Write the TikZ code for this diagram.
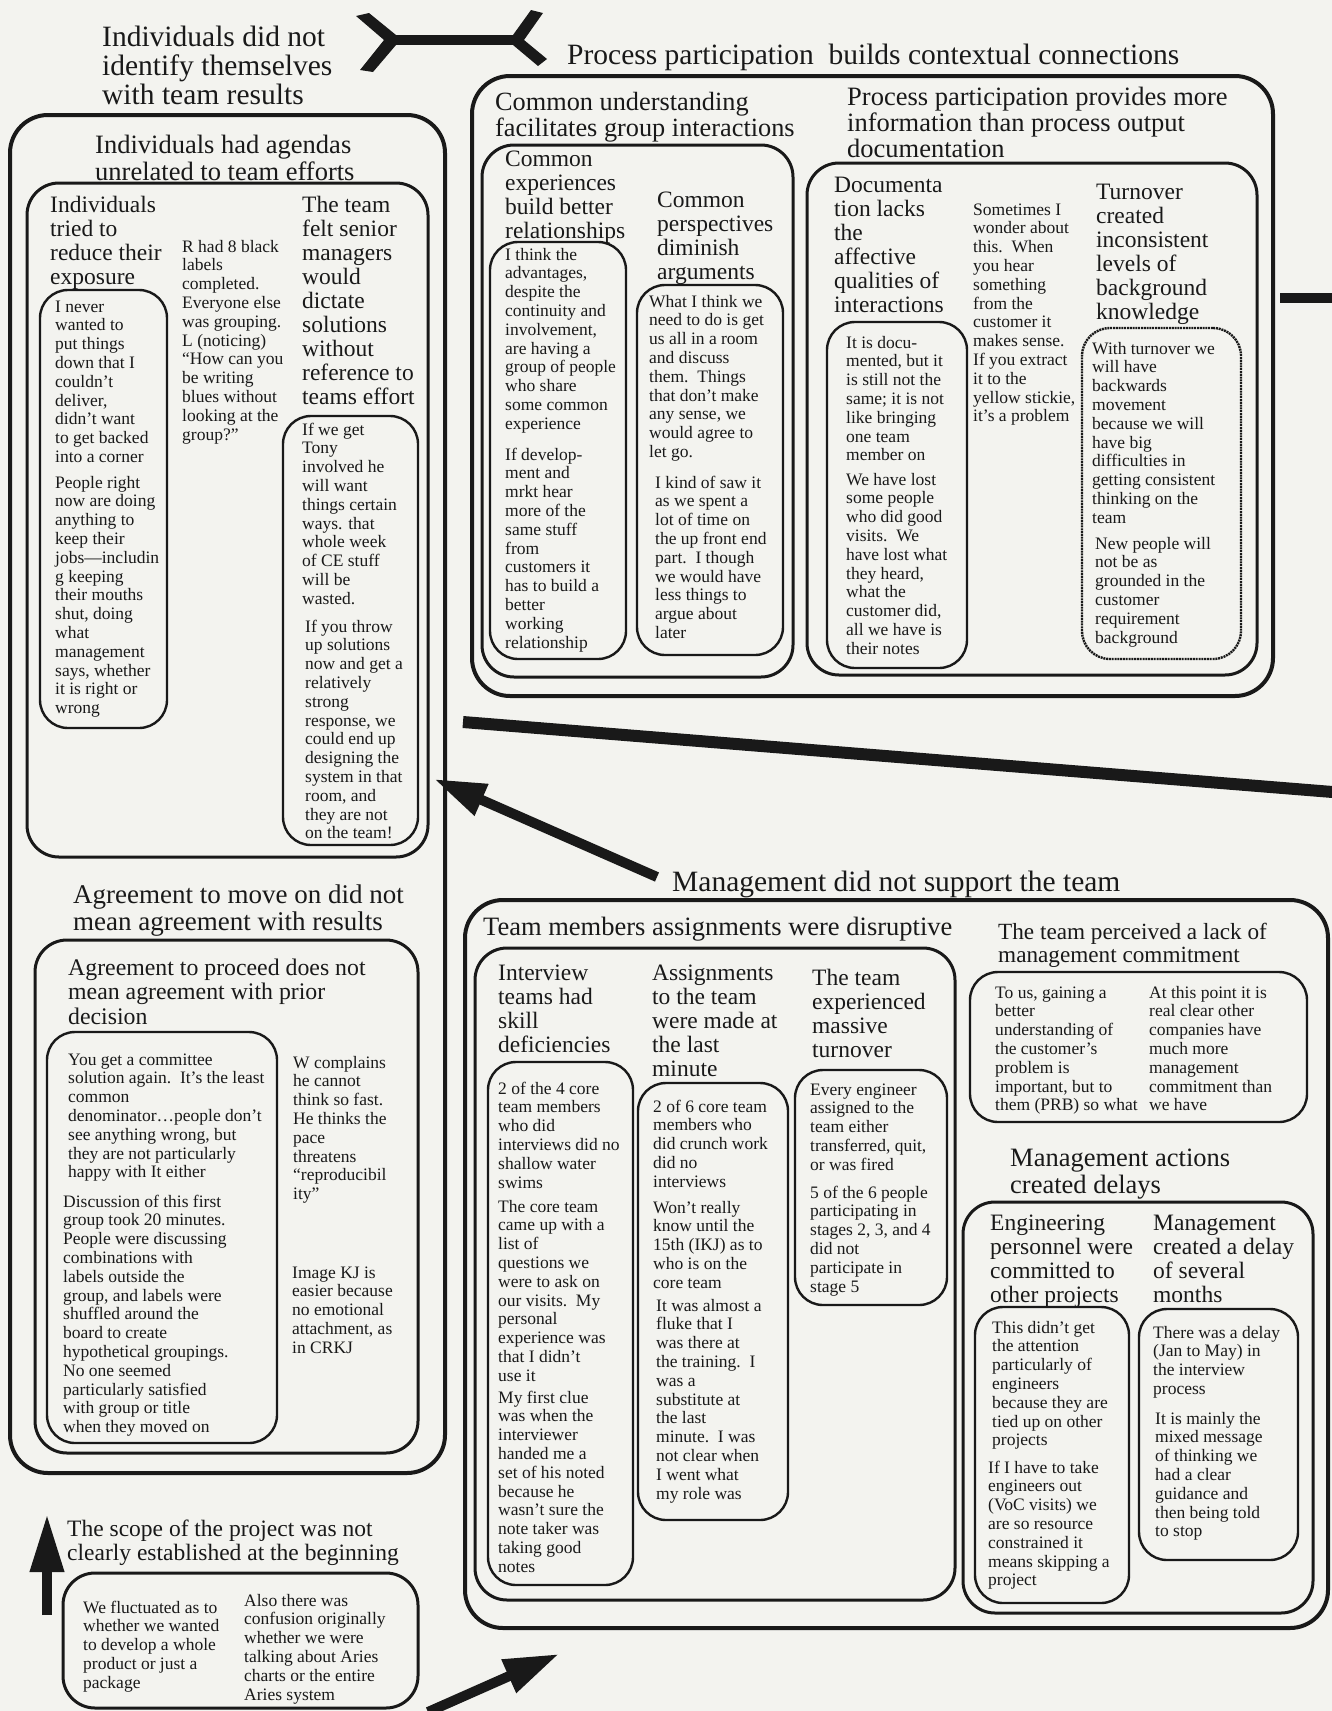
\documentclass[tikz,border=0pt]{standalone}
\usepackage{fontspec}
\setmainfont{Liberation Serif}
\usetikzlibrary{fit,arrows.meta}
\definecolor{bgc}{RGB}{243,243,239}
\definecolor{ink}{RGB}{25,25,25}
\newcommand\fzA{\fontsize{29.5}{28}\selectfont}
\newcommand\fzAg{\fontsize{27}{27}\selectfont}
\newcommand\fzS{\fontsize{23.5}{24.5}\selectfont}
\newcommand\fzB{\fontsize{26.5}{27}\selectfont}
\newcommand\fzBc{\fontsize{26.3}{26}\selectfont}
\newcommand\fzBp{\fontsize{26.5}{25.5}\selectfont}
\newcommand\fzL{\fontsize{23.2}{23.5}\selectfont}
\newcommand\fzP{\fontsize{23.8}{24.5}\selectfont}
\newcommand\fzC{\fontsize{23.5}{24}\selectfont}
\newcommand\fzD{\fontsize{17.5}{18.8}\selectfont}
\newcommand\txtb[5]{\node[tbs,font=#2] (#1) at (#3,#4) {\begin{tabular}[t]{@{}l@{}}#5\end{tabular}};}
\newcommand\boxn[6]{\node[#2,fit={(#3,#4) (#5,#6)}] (#1) {};}
\begin{document}
\begin{tikzpicture}[x=1pt,y=-1pt,
 tbs/.style={anchor=base west,inner sep=0pt,text=ink},
 boxA/.style={draw=ink,line width=4pt,rounded corners=38pt,inner sep=0pt},
 boxB/.style={draw=ink,line width=3pt,rounded corners=32pt,inner sep=0pt},
 note/.style={draw=ink,line width=2.4pt,rounded corners=28pt,inner sep=0pt},
 dnote/.style={note,dash pattern=on 2pt off 0.8pt},
 heavy/.style={draw=ink,line width=10pt},
 bigarrow/.style={heavy,-{Triangle[length=52pt,width=32pt]}}]
\useasboundingbox (0,0) rectangle (1332,1711);
\fill[bgc] (0,0) rectangle (1332,1711);

% ---------------- left column ----------------
\txtb{tind}{\fzA}{102}{46}{Individuals did not\\identify themselves\\with team results}
\boxn{bleft}{boxA}{10}{115}{445}{1473}
\txtb{tagd}{\fzB}{95}{153}{Individuals had agendas\\unrelated to team efforts}
\boxn{bagd}{boxB}{27}{183}{428}{857}
\txtb{texp}{\fzC}{50}{212}{Individuals\\tried to\\reduce their\\exposure}
\boxn{nnever}{note}{40}{290}{167}{728}
\txtb{qnevera}{\fzD}{55}{312}{I never\\wanted to\\put things\\down that I\\couldn't\\deliver,\\didn't want\\to get backed\\into a corner}
\txtb{qneverb}{\fzD}{55}{488}{People right\\now are doing\\anything to\\keep their\\jobs—includin\\g keeping\\their mouths\\shut, doing\\what\\management\\says, whether\\it is right or\\wrong}
\txtb{qR}{\fzD}{182}{252}{R had 8 black\\labels\\completed.\\Everyone else\\was grouping.\\L (noticing)\\“How can you\\be writing\\blues without\\looking at the\\group?”}
\txtb{tsen}{\fzC}{302}{212}{The team\\felt senior\\managers\\would\\dictate\\solutions\\without\\reference to\\teams effort}
\boxn{ntony}{note}{283}{416}{418}{845}
\txtb{qtonya}{\fzD}{302}{435}{If we get\\Tony\\involved he\\will want\\things certain\\ways. that\\whole week\\of CE stuff\\will be\\wasted.}
\txtb{qtonyb}{\fzD}{305}{632}{If you throw\\up solutions\\now and get a\\relatively\\strong\\response, we\\could end up\\designing the\\system in that\\room, and\\they are not\\on the team!}

\txtb{tagr}{\fzAg}{73}{903}{Agreement to move on did not\\mean agreement with results}
\boxn{bagr}{boxB}{35}{940}{418}{1453}
\txtb{tatp}{\fzP}{68}{975}{Agreement to proceed does not\\mean agreement with prior\\decision}
\boxn{ncomm}{note}{47}{1032}{277}{1443}
\txtb{qcomma}{\fzD}{68}{1065}{You get a committee\\solution again.\ \ It's the least\\common\\denominator…people don't\\see anything wrong, but\\they are not particularly\\happy with It either}
\txtb{qcommb}{\fzD}{63}{1207}{Discussion of this first\\group took 20 minutes.\\People were discussing\\combinations with\\labels outside the\\group, and labels were\\shuffled around the\\board to create\\hypothetical groupings.\\No one seemed\\particularly satisfied\\with group or title\\when they moved on}
\txtb{qW}{\fzD}{293}{1068}{W complains\\he cannot\\think so fast.\\He thinks the\\pace\\threatens\\“reproducibil\\ity”}
\txtb{qimg}{\fzD}{292}{1278}{Image KJ is\\easier because\\no emotional\\attachment, as\\in CRKJ}

\txtb{tscope}{\fzS}{67}{1536}{The scope of the project was not\\clearly established at the beginning}
\boxn{bscope}{boxB}{63}{1573}{418}{1708}
\txtb{qfluct}{\fzD}{83}{1613}{We fluctuated as to\\whether we wanted\\to develop a whole\\product or just a\\package}
\txtb{qaries}{\fzD}{244}{1606}{Also there was\\confusion originally\\whether we were\\talking about Aries\\charts or the entire\\Aries system}

% ---------------- top right ----------------
\txtb{tpp}{\fzA}{567}{64}{Process participation\ \ builds contextual connections}
\boxn{bpp}{boxA}{472}{76}{1273}{696}
\txtb{tcu}{\fzBc}{495}{110}{Common understanding\\facilitates group interactions}
\boxn{bcu}{boxB}{482}{145}{793}{677}
\txtb{tce}{\fzC}{505}{166}{Common\\experiences\\build better\\relationships}
\boxn{nce}{note}{490}{242}{626}{659}
\txtb{qadv}{\fzD}{505}{260}{I think the\\advantages,\\despite the\\continuity and\\involvement,\\are having a\\group of people\\who share\\some common\\experience}
\txtb{qdev}{\fzD}{505}{460}{If develop-\\ment and\\mrkt hear\\more of the\\same stuff\\from\\customers it\\has to build a\\better\\working\\relationship}
\txtb{tcp}{\fzC}{657}{207}{Common\\perspectives\\diminish\\arguments}
\boxn{ncp}{note}{637}{285}{783}{655}
\txtb{qwhat}{\fzD}{649}{307}{What I think we\\need to do is get\\us all in a room\\and discuss\\them.\ \ Things\\that don't make\\any sense, we\\would agree to\\let go.}
\txtb{qkind}{\fzD}{655}{488}{I kind of saw it\\as we spent a\\lot of time on\\the up front end\\part.\ \ I though\\we would have\\less things to\\argue about\\later}

\txtb{tppi}{\fzBp}{847}{105}{Process participation provides more\\information than process output\\documentation}
\boxn{bppi}{boxB}{807}{163}{1257}{675}
\txtb{tdoc}{\fzC}{834}{192}{Documenta\\tion lacks\\the\\affective\\qualities of\\interactions}
\boxn{ndoc}{note}{827}{322}{967}{668}
\txtb{qdocu}{\fzD}{846}{348}{It is docu-\\mented, but it\\is still not the\\same; it is not\\like bringing\\one team\\member on}
\txtb{qlost}{\fzD}{846}{485}{We have lost\\some people\\who did good\\visits.\ \ We\\have lost what\\they heard,\\what the\\customer did,\\all we have is\\their notes}
\txtb{qsome}{\fzD}{973}{215}{Sometimes I\\wonder about\\this.\ \ When\\you hear\\something\\from the\\customer it\\makes sense.\\If you extract\\it to the\\yellow stickie,\\it's a problem}
\txtb{tturn}{\fzC}{1096}{199}{Turnover\\created\\inconsistent\\levels of\\background\\knowledge}
\boxn{nto}{dnote}{1082}{328}{1241}{659}
\txtb{qwith}{\fzD}{1092}{354}{With turnover we\\will have\\backwards\\movement\\because we will\\have big\\difficulties in\\getting consistent\\thinking on the\\team}
\txtb{qnew}{\fzD}{1095}{549}{New people will\\not be as\\grounded in the\\customer\\requirement\\background}

% ---------------- bottom right ----------------
\txtb{tmg}{\fzA}{672}{891}{Management did not support the team}
\boxn{bmg}{boxA}{465}{900}{1328}{1628}
\txtb{ttm}{\fzB}{483}{935}{Team members assignments were disruptive}
\boxn{btm}{boxB}{475}{948}{955}{1600}
\txtb{tint}{\fzC}{498}{980}{Interview\\teams had\\skill\\deficiencies}
\boxn{nit}{note}{488}{1062}{633}{1585}
\txtb{qtwoffour}{\fzD}{498}{1094}{2 of the 4 core\\team members\\who did\\interviews did no\\shallow water\\swims}
\txtb{qcore}{\fzD}{498}{1212}{The core team\\came up with a\\list of\\questions we\\were to ask on\\our visits.\ \ My\\personal\\experience was\\that I didn't\\use it}
\txtb{qclue}{\fzD}{498}{1403}{My first clue\\was when the\\interviewer\\handed me a\\set of his noted\\because he\\wasn't sure the\\note taker was\\taking good\\notes}
\txtb{tasg}{\fzC}{652}{980}{Assignments\\to the team\\were made at\\the last\\minute}
\boxn{nas}{note}{638}{1083}{788}{1520}
\txtb{qtwofsix}{\fzD}{653}{1112}{2 of 6 core team\\members who\\did crunch work\\did no\\interviews}
\txtb{qwont}{\fzD}{653}{1213}{Won't really\\know until the\\15th (IKJ) as to\\who is on the\\core team}
\txtb{qfluke}{\fzD}{656}{1311}{It was almost a\\fluke that I\\was there at\\the training.\ \ I\\was a\\substitute at\\the last\\minute.\ \ I was\\not clear when\\I went what\\my role was}
\txtb{ttt}{\fzC}{812}{985}{The team\\experienced\\massive\\turnover}
\boxn{ntt}{note}{795}{1070}{947}{1305}
\txtb{qevery}{\fzD}{810}{1095}{Every engineer\\assigned to the\\team either\\transferred, quit,\\or was fired}
\txtb{qfivesix}{\fzD}{810}{1198}{5 of the 6 people\\participating in\\stages 2, 3, and 4\\did not\\participate in\\stage 5}

\txtb{tlmc}{\fzL}{998}{939}{The team perceived a lack of\\management commitment}
\boxn{blmc}{note}{970}{972}{1307}{1122}
\txtb{qtous}{\fzD}{995}{998}{To us, gaining a\\better\\understanding of\\the customer's\\problem is\\important, but to\\them (PRB) so what}
\txtb{qatthis}{\fzD}{1149}{998}{At this point it is\\real clear other\\companies have\\much more\\management\\commitment than\\we have}

\txtb{tmad}{\fzB}{1010}{1166}{Management actions\\created delays}
\boxn{bmad}{boxB}{963}{1202}{1313}{1613}
\txtb{teng}{\fzC}{990}{1230}{Engineering\\personnel were\\committed to\\other projects}
\boxn{neng}{note}{975}{1307}{1129}{1603}
\txtb{qdidnt}{\fzD}{992}{1333}{This didn't get\\the attention\\particularly of\\engineers\\because they are\\tied up on other\\projects}
\txtb{qiftake}{\fzD}{988}{1473}{If I have to take\\engineers out\\(VoC visits) we\\are so resource\\constrained it\\means skipping a\\project}
\txtb{tdel}{\fzC}{1153}{1230}{Management\\created a delay\\of several\\months}
\boxn{ndel}{note}{1139}{1309}{1298}{1560}
\txtb{qdelay}{\fzD}{1153}{1338}{There was a delay\\(Jan to May) in\\the interview\\process}
\txtb{qmainly}{\fzD}{1155}{1424}{It is mainly the\\mixed message\\of thinking we\\had a clear\\guidance and\\then being told\\to stop}

% ---------------- connectors ----------------
\coordinate (fkL) at (388,40);
\coordinate (fkR) at (518,40);
\draw[heavy] (fkL) -- (fkR);
\fill[ink] (356,16) -- (369,13) -- (396,35) -- (396,45) -- (373,72) -- (360,70) -- (384,40) -- cycle;
\fill[ink] (513,35) -- (531,10) -- (543,13) -- (524,40) -- (547,59) -- (538,66) -- (513,45) -- cycle;

\coordinate (lra) at (1280,298);
\coordinate (lrb) at (1345,298);
\draw[heavy] (lra) -- (lrb);

\coordinate (lda) at (463,722);
\coordinate (ldb) at (1345,793);
\draw[heavy,line width=12pt] (lda) -- (ldb);

\coordinate (aone) at (657,877);
\coordinate (aonetip) at (434,779);
\draw[bigarrow] (aone) -- (aonetip);

\coordinate (atwo) at (47,1615);
\coordinate (atwotip) at (47,1514);
\draw[heavy,-{Triangle[length=58pt,width=32pt]}] (atwo) -- (atwotip);

\coordinate (athree) at (428,1712);
\coordinate (athreetip) at (559,1654);
\draw[heavy,-{Triangle[length=55pt,width=34pt]}] (athree) -- (athreetip);
\end{tikzpicture}
\end{document}
